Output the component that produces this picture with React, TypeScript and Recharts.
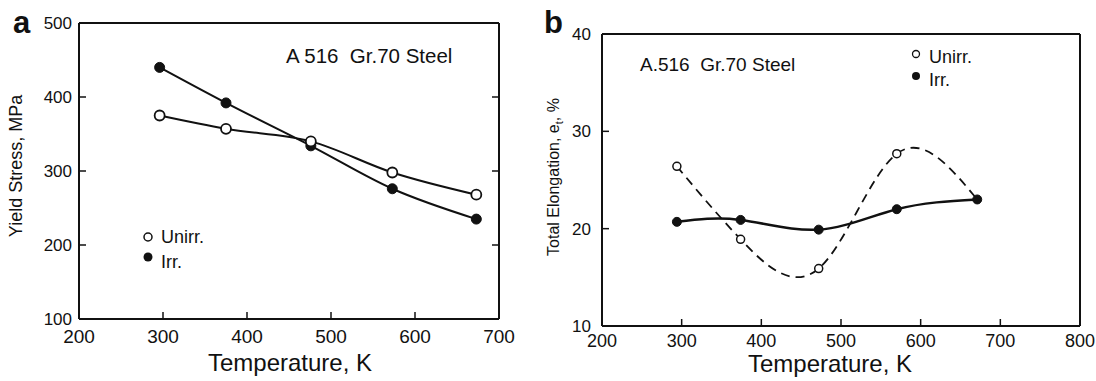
import { Line, LineChart, XAxis, YAxis } from 'recharts'

const FONT = '"Liberation Sans", Arial, sans-serif'
const INK = '#111'

// panel a: yield stress vs temperature
const tempsA = [296, 375, 476, 573, 673]
const unirrYieldA = [375, 357, 340, 298, 268]
const irrYieldA = [440, 392, 334, 276, 235]
const xTicksA = [200, 300, 400, 500, 600, 700]
const yTicksA = [100, 200, 300, 400, 500]
const innerXTicksA = [300, 400, 500, 600]
const innerYTicksA = [200, 300, 400]

// panel b: total elongation vs temperature
const tempsB = [294, 374, 472, 570, 671]
const unirrElongB = [26.4, 18.9, 15.9, 27.7, 23.0]
const irrElongB = [20.7, 20.9, 19.9, 22.0, 23.0]
const xTicksB = [200, 300, 400, 500, 600, 700, 800]
const yTicksB = [10, 20, 30, 40]
const innerXTicksB = [300, 400, 500, 600, 700]
const innerYTicksB = [20, 30]

const rows = (xs: number[], ys: number[]) => xs.map((t, i) => ({ t, v: ys[i] }))

const frame = { stroke: INK, strokeWidth: 2 }
const TICK_LEN = 7

// ---------------------------------------------------------------------------
// tick renderers: inward tick marks + labels outside the frame
// ---------------------------------------------------------------------------
function bottomTick(fontSize: number, below: number, marks: number[]) {
  return (p: any) => (
    <g>
      {marks.includes(p.payload.value) && (
        <line x1={p.x} y1={p.y} x2={p.x} y2={p.y - TICK_LEN} stroke={INK} strokeWidth={1.5} />
      )}
      <text x={p.x} y={p.y + below} textAnchor="middle" fontSize={fontSize} fill={INK} fontFamily={FONT}>
        {p.payload.value}
      </text>
    </g>
  )
}

function leftTick(fontSize: number, gap: number, marks: number[]) {
  return (p: any) => (
    <g>
      {marks.includes(p.payload.value) && (
        <line x1={p.x} y1={p.y} x2={p.x + TICK_LEN} y2={p.y} stroke={INK} strokeWidth={1.5} />
      )}
      <text x={p.x - gap} y={p.y} dy="0.35em" textAnchor="end" fontSize={fontSize} fill={INK} fontFamily={FONT}>
        {p.payload.value}
      </text>
    </g>
  )
}

const topTick = (p: any) => (
  <line x1={p.x} y1={p.y} x2={p.x} y2={p.y + TICK_LEN} stroke={INK} strokeWidth={1.5} />
)
const rightTick = (p: any) => (
  <line x1={p.x} y1={p.y} x2={p.x - TICK_LEN} y2={p.y} stroke={INK} strokeWidth={1.5} />
)

// open circles; the last unirr point in b sits under the filled irr marker
const openDot = (r: number, sw: number, skipLast = false) => (p: any) => {
  if (skipLast && p.index === 4) return <g key={`o${p.index}`} />
  return <circle key={`o${p.index}`} cx={p.cx} cy={p.cy} r={r} fill="#fff" stroke={INK} strokeWidth={sw} />
}

function YieldChart() {
  return (
    <LineChart width={548} height={381} margin={{ top: 22, right: 48, left: 0, bottom: 0 }}>
      <XAxis
        dataKey="t"
        type="number"
        domain={[200, 700]}
        ticks={xTicksA}
        allowDataOverflow
        height={62}
        tickSize={0}
        tickMargin={0}
        tickLine={false}
        axisLine={frame}
        tick={bottomTick(19, 24, innerXTicksA)}
      />
      <XAxis
        xAxisId="top"
        orientation="top"
        type="number"
        domain={[200, 700]}
        ticks={innerXTicksA}
        allowDataOverflow
        height={1}
        tickSize={0}
        tickMargin={0}
        tickLine={false}
        axisLine={frame}
        tick={topTick}
      />
      <YAxis
        type="number"
        domain={[100, 500]}
        ticks={yTicksA}
        allowDataOverflow
        width={79}
        tickSize={0}
        tickMargin={0}
        tickLine={false}
        axisLine={frame}
        tick={leftTick(17, 7, innerYTicksA)}
      />
      <YAxis
        yAxisId="right"
        orientation="right"
        type="number"
        domain={[100, 500]}
        ticks={innerYTicksA}
        allowDataOverflow
        width={1}
        tickSize={0}
        tickMargin={0}
        tickLine={false}
        axisLine={frame}
        tick={rightTick}
      />
      <Line
        data={rows(tempsA, irrYieldA)}
        dataKey="v"
        type="monotone"
        stroke={INK}
        strokeWidth={2}
        dot={{ r: 5, fill: INK, stroke: INK, strokeWidth: 1 }}
        isAnimationActive={false}
      />
      <Line
        data={rows(tempsA, unirrYieldA)}
        dataKey="v"
        type="monotone"
        stroke={INK}
        strokeWidth={2}
        dot={openDot(5, 1.8)}
        isAnimationActive={false}
      />
    </LineChart>
  )
}

function ElongationChart() {
  return (
    <LineChart width={548} height={381} margin={{ top: 33, right: 15, left: 0, bottom: 0 }}>
      <XAxis
        dataKey="t"
        type="number"
        domain={[200, 800]}
        ticks={xTicksB}
        allowDataOverflow
        height={55}
        tickSize={0}
        tickMargin={0}
        tickLine={false}
        axisLine={frame}
        tick={bottomTick(18, 21, innerXTicksB)}
      />
      <XAxis
        xAxisId="top"
        orientation="top"
        type="number"
        domain={[200, 800]}
        allowDataOverflow
        height={1}
        tick={false}
        tickLine={false}
        axisLine={frame}
      />
      <YAxis
        type="number"
        domain={[10, 40]}
        ticks={yTicksB}
        allowDataOverflow
        width={54}
        tickSize={0}
        tickMargin={0}
        tickLine={false}
        axisLine={frame}
        tick={leftTick(17, 11, innerYTicksB)}
      />
      <YAxis
        yAxisId="right"
        orientation="right"
        type="number"
        domain={[10, 40]}
        allowDataOverflow
        width={1}
        tick={false}
        tickLine={false}
        axisLine={frame}
      />
      <Line
        data={rows(tempsB, unirrElongB)}
        dataKey="v"
        type="natural"
        stroke={INK}
        strokeWidth={1.8}
        strokeDasharray="9 6"
        dot={openDot(4, 1.5, true)}
        isAnimationActive={false}
      />
      <Line
        data={rows(tempsB, irrElongB)}
        dataKey="v"
        type="natural"
        stroke={INK}
        strokeWidth={2.5}
        dot={{ r: 4.5, fill: INK, stroke: INK, strokeWidth: 1 }}
        isAnimationActive={false}
      />
    </LineChart>
  )
}

const txt = { fill: INK, fontFamily: FONT } as const

function Annotations() {
  return (
    <svg width={1096} height={381} style={{ position: 'absolute', left: 0, top: 0, pointerEvents: 'none' }}>
      <text x={13} y={33} fontSize={31} fontWeight="bold" {...txt}>a</text>
      <text x={544} y={33} fontSize={31} fontWeight="bold" {...txt}>b</text>

      <text x={290} y={371} fontSize={24} textAnchor="middle" {...txt}>Temperature, K</text>
      <text x={830} y={372} fontSize={24} textAnchor="middle" {...txt}>Temperature, K</text>

      <text transform="translate(22,166) rotate(-90)" fontSize={18} textAnchor="middle" {...txt}>
        Yield Stress, MPa
      </text>
      <text transform="translate(559,177) rotate(-90)" fontSize={16} textAnchor="middle" {...txt}>
        Total Elongation, e<tspan fontSize={11} dy={4}>t</tspan><tspan dy={-4}>, %</tspan>
      </text>

      <text x={286} y={63} fontSize={20.5} style={{ whiteSpace: 'pre' }} {...txt}>A 516  Gr.70 Steel</text>
      <text x={640} y={71} fontSize={19} style={{ whiteSpace: 'pre' }} {...txt}>A.516  Gr.70 Steel</text>

      <circle cx={148} cy={237} r={4} fill="#fff" stroke={INK} strokeWidth={1.5} />
      <text x={161} y={243} fontSize={18} {...txt}>Unirr.</text>
      <circle cx={148} cy={257} r={4.5} fill={INK} />
      <text x={161} y={268} fontSize={18} {...txt}>Irr.</text>

      <circle cx={916} cy={54} r={3.5} fill="#fff" stroke={INK} strokeWidth={1.3} />
      <text x={929} y={63} fontSize={18} {...txt}>Unirr.</text>
      <circle cx={916} cy={76} r={4} fill={INK} />
      <text x={929} y={86} fontSize={18} {...txt}>Irr.</text>
    </svg>
  )
}

export default function App() {
  return (
    <div style={{ position: 'absolute', left: 0, top: 0, width: 1096, height: 381, background: '#fff' }}>
      <div style={{ position: 'absolute', left: 0, top: 0 }}>
        <YieldChart />
      </div>
      <div style={{ position: 'absolute', left: 548, top: 0 }}>
        <ElongationChart />
      </div>
      <Annotations />
    </div>
  )
}
